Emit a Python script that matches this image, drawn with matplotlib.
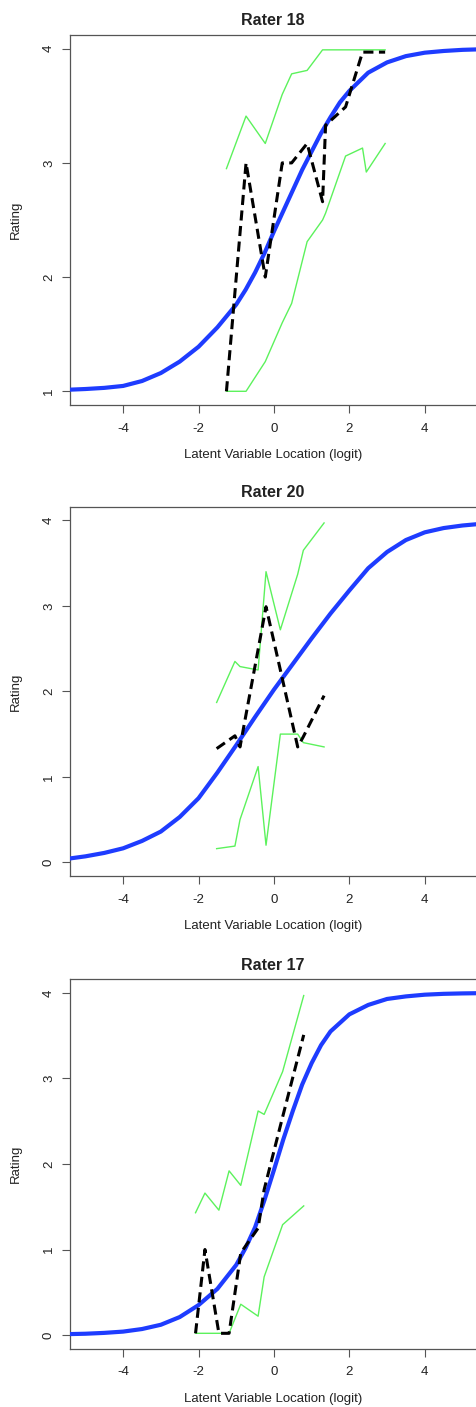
import matplotlib
matplotlib.use('Agg')
import matplotlib.pyplot as plt

plt.rcParams['font.family'] = ['Liberation Sans', 'DejaVu Sans']

# Rater 18 (rating categories 1-4)
r18_x = [-1.26, -0.74, -0.23, 0.22, 0.47, 0.88, 1.29, 1.37, 1.90, 2.35, 2.45, 2.95]
r18_obs = [1.0, 3.0, 2.0, 3.0, 3.0, 3.17, 2.66, 3.33, 3.49, 3.97, 3.97, 3.97]
r18_upper = [2.95, 3.41, 3.17, 3.60, 3.78, 3.81, 3.99, 3.99, 3.99, 3.99, 3.99, 3.99]
r18_lower = [1.0, 1.0, 1.26, 1.60, 1.77, 2.31, 2.50, 2.56, 3.06, 3.13, 2.92, 3.17]
r18_curve_x = [-5.5, -5, -4.5, -4, -3.5, -3, -2.5, -2, -1.5, -1, -0.75, -0.5, -0.25,
               0, 0.25, 0.5, 0.75, 1, 1.25, 1.5, 1.75, 2, 2.5, 3, 3.5, 4, 4.5, 5, 5.5]
r18_curve_y = [1.013, 1.02, 1.03, 1.047, 1.09, 1.16, 1.26, 1.39, 1.56, 1.76, 1.89, 2.04, 2.21,
               2.40, 2.58, 2.76, 2.94, 3.10, 3.26, 3.40, 3.53, 3.63, 3.79, 3.88, 3.935, 3.965,
               3.98, 3.99, 3.995]

# Rater 20 (rating categories 0-4)
r20_x = [-1.52, -1.035, -0.90, -0.42, -0.21, 0.17, 0.63, 0.78, 1.33]
r20_obs = [1.33, 1.48, 1.35, 2.49, 2.99, 2.25, 1.35, 1.47, 1.95]
r20_upper = [1.87, 2.35, 2.29, 2.25, 3.40, 2.72, 3.37, 3.65, 3.97]
r20_lower = [0.16, 0.19, 0.50, 1.12, 0.20, 1.50, 1.50, 1.40, 1.35]
r20_curve_x = [-5.5, -5, -4.5, -4, -3.5, -3, -2.5, -2, -1.5, -1, -0.5, 0, 0.5, 1,
               1.5, 2, 2.5, 3, 3.5, 4, 4.5, 5, 5.5]
r20_curve_y = [0.04, 0.07, 0.11, 0.164, 0.25, 0.36, 0.53, 0.75, 1.05, 1.37, 1.70, 2.02,
               2.32, 2.62, 2.91, 3.18, 3.44, 3.63, 3.77, 3.86, 3.91, 3.94, 3.96]

# Rater 17 (rating categories 0-4)
r17_x = [-2.08, -1.83, -1.46, -1.19, -0.88, -0.42, -0.26, 0.23, 0.79]
r17_obs = [0.02, 1.0, 0.02, 0.02, 0.96, 1.25, 1.70, 2.55, 3.51]
r17_upper = [1.43, 1.66, 1.46, 1.92, 1.75, 2.62, 2.58, 3.08, 3.97]
r17_lower = [0.02, 0.02, 0.02, 0.02, 0.36, 0.22, 0.68, 1.29, 1.51]
r17_curve_x = [-5.5, -5, -4.5, -4, -3.5, -3, -2.5, -2, -1.5, -1, -0.75, -0.5, -0.25,
               0, 0.25, 0.5, 0.75, 1, 1.25, 1.5, 2, 2.5, 3, 3.5, 4, 4.5, 5, 5.5]
r17_curve_y = [0.01, 0.015, 0.025, 0.04, 0.07, 0.12, 0.21, 0.35, 0.54, 0.82, 1.02, 1.26, 1.58,
               1.93, 2.29, 2.62, 2.93, 3.18, 3.39, 3.55, 3.75, 3.86, 3.93, 3.96, 3.98, 3.99,
               3.995, 3.998]

x_ticks = [-4, -2, 0, 2, 4]

panels = [
    ("Rater 18", r18_x, r18_obs, r18_upper, r18_lower, r18_curve_x, r18_curve_y, [1, 2, 3, 4]),
    ("Rater 20", r20_x, r20_obs, r20_upper, r20_lower, r20_curve_x, r20_curve_y, [0, 1, 2, 3, 4]),
    ("Rater 17", r17_x, r17_obs, r17_upper, r17_lower, r17_curve_x, r17_curve_y, [0, 1, 2, 3, 4]),
]

W, H = 476.0, 1407.0
boxes = [(35, 405), (506.7, 876), (979.3, 1348.7)]  # top, bottom in pixels
left = 70
txt = '#222222'
edge = '#555555'

fig = plt.figure(figsize=(W / 100, H / 100), dpi=100)

for (title, x, obs, up, lo, cx, cy, yt), (top, bot) in zip(panels, boxes):
    ax = fig.add_axes([left / W, 1 - bot / H, 1 - left / W, (bot - top) / H])
    ax.plot(cx, cy, color='#1e3cff', lw=3.0, zorder=3, solid_joinstyle='round')
    ax.plot(x, up, color='#5cf25c', lw=1.0, zorder=2)
    ax.plot(x, lo, color='#5cf25c', lw=1.0, zorder=2)
    ax.plot(x, obs, color='black', lw=2.2, ls=(0, (3.3, 1.8)), zorder=4)

    ax.set_xlim(-5.41, 5.36)
    span = yt[-1] - yt[0]
    ax.set_ylim(yt[0] - 0.04 * span, yt[-1] + 0.04 * span)
    ax.set_xticks(x_ticks)
    ax.set_yticks(yt)
    ax.set_xticklabels([str(v) for v in x_ticks])
    ax.set_yticklabels([str(v) for v in yt], rotation=90, va='center')

    ax.spines['right'].set_visible(False)
    for s in ['left', 'top', 'bottom']:
        ax.spines[s].set_color(edge)
        ax.spines[s].set_linewidth(0.9)
    ax.tick_params(direction='out', length=5.8, width=0.8, color=edge,
                   labelcolor=txt, labelsize=9.5)
    ax.tick_params(axis='x', pad=7)
    ax.tick_params(axis='y', pad=5)

    ax.set_title(title, fontsize=11.5, fontweight='bold', color=txt, pad=7)
    ax.set_xlabel('Latent Variable Location (logit)', fontsize=9.5, color=txt)
    ax.set_ylabel('Rating', fontsize=9.5, color=txt)
    hpx = bot - top
    wpx = W - left
    ax.xaxis.set_label_coords(0.5, -50 / hpx)
    ax.xaxis.label.set_va('center')
    ax.yaxis.set_label_coords(-54 / wpx, 0.5)
    ax.yaxis.label.set_va('center')

fig.savefig('out.png', dpi=100)
